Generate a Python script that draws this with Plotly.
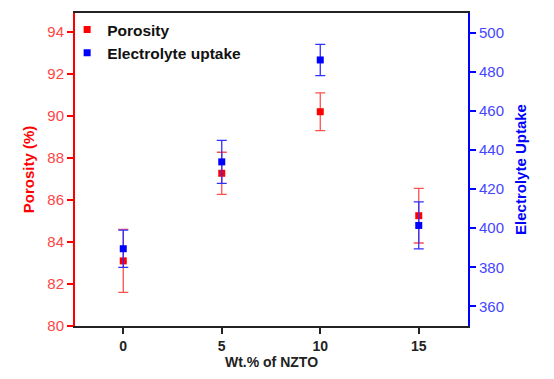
import plotly.graph_objects as go

x_vals = [0, 5, 10, 15]
porosity = [83.1, 87.27, 90.2, 85.25]
porosity_err = [1.5, 1.0, 0.9, 1.3]
uptake = [389.5, 433.9, 486.0, 401.4]
uptake_err = [9.5, 11.0, 8.0, 12.0]

RED = "#ff0000"
BLUE = "#0000ff"
FONT = "Liberation Sans, Arial, sans-serif"

fig = go.Figure()
fig.add_trace(go.Scatter(
    x=x_vals, y=porosity, mode="markers", name="<b>Porosity</b>",
    marker=dict(symbol="square", size=7, color=RED),
    error_y=dict(type="data", array=porosity_err, color="#ff5050", thickness=1.3, width=5),
    yaxis="y"))
fig.add_trace(go.Scatter(
    x=x_vals, y=uptake, mode="markers", name="<b>Electrolyte uptake</b>",
    marker=dict(symbol="square", size=7, color=BLUE),
    error_y=dict(type="data", array=uptake_err, color="#3030ff", thickness=1.3, width=5),
    yaxis="y2"))

# page body adds an 8px offset; figure is sized so the plot area lands where the reference has it
fig.update_layout(
    width=546, height=371,
    margin=dict(l=67, r=86, t=5, b=53, autoexpand=False),
    paper_bgcolor="white", plot_bgcolor="white",
    font=dict(family=FONT, size=14, color="black"),
    showlegend=True,
    legend=dict(x=-0.02, y=1.0, xanchor="left", yanchor="top",
                bgcolor="rgba(0,0,0,0)", font=dict(size=15.5, color="#111"),
                tracegroupgap=0, itemwidth=30),
    xaxis=dict(
        range=[-2.45, 17.5], tickvals=x_vals, ticktext=["<b>%d</b>" % v for v in x_vals],
        showline=True, linecolor="#222", linewidth=2, mirror=True,
        ticks="outside", ticklen=6, tickwidth=1.5, tickcolor="#222",
        showgrid=False, zeroline=False, automargin=False,
        tickfont=dict(size=14, color="#222"),
        title=dict(text="<b>Wt.% of NZTO</b>", font=dict(size=14, color="#222"), standoff=0),
    ),
    yaxis=dict(
        range=[80, 94.9], tickvals=[80, 82, 84, 86, 88, 90, 92, 94],
        showline=True, linecolor=RED, linewidth=2,
        ticks="outside", ticklen=6, tickwidth=1.5, tickcolor=RED,
        showgrid=False, zeroline=False, automargin=False,
        tickfont=dict(size=15, color="#ff4545"),
        title=dict(text="<b>Porosity (%)</b>", font=dict(size=15, color=RED), standoff=9),
    ),
    yaxis2=dict(
        range=[350, 510], tickvals=[360, 380, 400, 420, 440, 460, 480, 500],
        overlaying="y", side="right",
        showline=True, linecolor=BLUE, linewidth=2,
        ticks="outside", ticklen=6, tickwidth=1.5, tickcolor=BLUE,
        showgrid=False, zeroline=False, automargin=False,
        tickfont=dict(size=15, color="#4545ff"),
        title=dict(text="<b>Electrolyte Uptake</b>", font=dict(size=15, color=BLUE), standoff=12),
    ),
)

fig.write_html("out.html")
